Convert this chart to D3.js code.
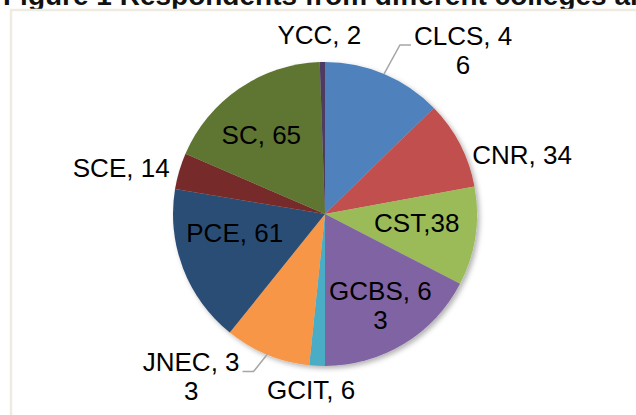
<!DOCTYPE html>
<html>
<head>
<meta charset="utf-8">
<script src="https://cdn.jsdelivr.net/npm/d3@7"></script>
<style>
  html, body { margin: 0; padding: 0; background: #fff; }
  svg { display: block; }
</style>
</head>
<body>
<script>
// ---- data ----
const categories = ["CLCS", "CNR", "CST", "GCBS", "GCIT", "JNEC", "PCE", "SCE", "SC", "YCC"];
const values     = [46, 34, 38, 63, 6, 33, 61, 14, 65, 2];
const separators = [", ", ", ", ",", ", ", ", ", ", ", ", ", ", ", ", ", ", "];
const colors     = ["#4F81BD", "#C0504D", "#9BBB59", "#8064A2", "#4BACC6",
                    "#F79646", "#2C4D75", "#772C2A", "#5F7530", "#4D3B62"];
const titleText  = "Figure 1 Respondents from different colleges and";

// ---- label layout (radial factor, pixel nudge, wrap length, leader) ----
const labelK      = [1, 1, 0.65, 0.65, 1, 1, 0.65, 1, 0.65, 1];
const labelNudge  = [[79,-24],[62,11],[-6,-6],[4,7],[-6,24],[-76,22],[2,-16],[-58,-3],[-8,2],[-3,-27]];
const labelWrap   = [7, 0, 0, 7, 0, 7, 0, 0, 0, 0];
const labelLeader = [true, false, false, false, false, true, false, false, false, false];

const W = 636, H = 415;
const cx = 325, cy = 214, R = 152;
const fontSize = 26, lineH = 29;

const svg = d3.select("body").append("svg").attr("width", W).attr("height", H);

const defs = svg.append("defs");
const f = defs.append("filter").attr("id", "shadow")
  .attr("x", "-10%").attr("y", "-10%").attr("width", "125%").attr("height", "125%");
f.append("feDropShadow").attr("dx", 2.5).attr("dy", 2.5).attr("stdDeviation", 2.5)
  .attr("flood-color", "#000").attr("flood-opacity", 0.3);

// title (cropped at top, as in the reference)
svg.append("text")
  .attr("x", 3).attr("y", 4.5)
  .attr("font-family", "Liberation Sans, Arial, sans-serif")
  .attr("font-weight", "bold").attr("font-size", 28)
  .attr("fill", "#111")
  .text(titleText);

// chart frame
svg.append("rect")
  .attr("x", 11).attr("y", 10).attr("width", W + 20).attr("height", H + 20)
  .attr("fill", "#fff").attr("stroke", "#EEECE1").attr("stroke-width", 2.5);

const data = categories.map((c, i) => ({ name: c, value: values[i], i }));
const pie = d3.pie().value(d => d.value).sort(null);
const arcs = pie(data);
const arc = d3.arc().innerRadius(0).outerRadius(R);

const g = svg.append("g").attr("transform", `translate(${cx},${cy})`);

g.append("g").attr("filter", "url(#shadow)")
  .selectAll("path").data(arcs).join("path")
  .attr("d", arc)
  .attr("fill", d => colors[d.data.i]);

const polar = (a, r) => [Math.sin(a) * r, -Math.cos(a) * r];

const labels = g.append("g")
  .attr("font-family", "Liberation Sans, Arial, sans-serif")
  .attr("font-size", fontSize).attr("fill", "#000");

arcs.forEach(d => {
  const i = d.data.i;
  const mid = (d.startAngle + d.endAngle) / 2;
  const p = polar(mid, R * labelK[i]);
  const lx = p[0] + labelNudge[i][0];
  const ly = p[1] + labelNudge[i][1];
  const full = d.data.name + separators[i] + d.data.value;
  const lines = labelWrap[i] ? [full.slice(0, labelWrap[i]), full.slice(labelWrap[i])] : [full];
  const t = labels.append("text").attr("text-anchor", "middle");
  const y0 = ly - (lines.length - 1) * lineH / 2;
  lines.forEach((ln, k) => {
    t.append("tspan").attr("x", lx).attr("y", y0 + k * lineH).attr("dy", "0.35em").text(ln);
  });
  if (labelLeader[i]) {
    const bb = t.node().getBBox();
    const edge = polar(mid, R);
    const right = lx > edge[0];
    const ey = ly - 5;
    const endX = right ? bb.x - 3 : bb.x + bb.width + 3;
    const elbowX = right ? endX - 11 : endX + 11;
    g.insert("polyline", () => labels.node())
      .attr("points", [[edge[0], edge[1]], [elbowX, ey], [endX, ey]].map(q => q.join(",")).join(" "))
      .attr("fill", "none").attr("stroke", "#A6A6A6").attr("stroke-width", 1.5);
  }
});
</script>
</body>
</html>
